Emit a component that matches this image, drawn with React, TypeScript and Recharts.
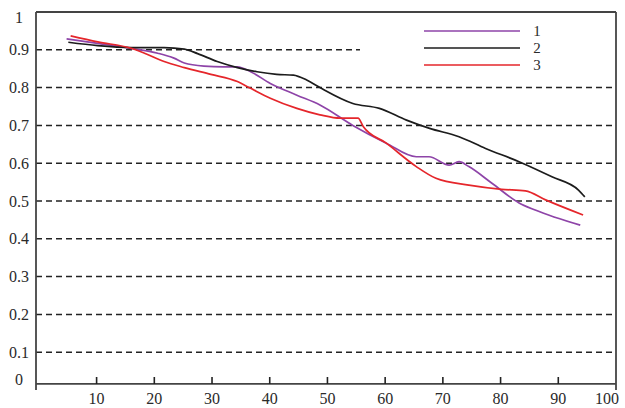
import React from 'react';
import { LineChart, Line, XAxis, YAxis, ReferenceLine } from 'recharts';

const xTicks = [10, 20, 30, 40, 50, 60, 70, 80, 90, 100];
const yTicks = [0, 0.1, 0.2, 0.3, 0.4, 0.5, 0.6, 0.7, 0.8, 0.9, 1];
const gridValues = [0.1, 0.2, 0.3, 0.4, 0.5, 0.6, 0.7, 0.8, 0.9];
const seriesNames = ['1', '2', '3'];
const seriesColors = ['#8e44a8', '#1c1c1c', '#e5262b'];

const s1X = [4.8, 10.2, 16, 20.6, 23.4, 25.2, 28.6, 32, 34.4, 36.7, 40.1, 44.7, 48.7, 54.4, 60.2, 65.4, 67.6, 71.1, 72.8, 74.5, 78.5, 83.2, 86, 93.8];
const s1Y = [0.929, 0.917, 0.904, 0.891, 0.878, 0.865, 0.857, 0.855, 0.855, 0.842, 0.811, 0.78, 0.754, 0.7, 0.653, 0.617, 0.617, 0.595, 0.604, 0.591, 0.547, 0.495, 0.476, 0.436];

const s2X = [5.1, 10.2, 16, 21.7, 25.2, 27.5, 30.9, 34.4, 37.8, 41.2, 44.1, 46.4, 48.7, 54.4, 59, 63.7, 67.7, 72.8, 77.4, 83.2, 88.9, 93.5, 94.6];
const s2Y = [0.92, 0.911, 0.906, 0.906, 0.902, 0.89, 0.869, 0.853, 0.842, 0.835, 0.833, 0.82, 0.8, 0.758, 0.745, 0.714, 0.692, 0.67, 0.639, 0.604, 0.564, 0.529, 0.511];

const s3X = [5.5, 10.2, 16, 18.3, 21.7, 25.2, 29.8, 34.4, 36.7, 40.1, 44.7, 48.7, 52.2, 55.3, 56.2, 60.2, 65.4, 68.8, 74.5, 80.2, 84.3, 87.8, 94.3];
const s3Y = [0.937, 0.921, 0.904, 0.891, 0.869, 0.853, 0.835, 0.816, 0.798, 0.772, 0.745, 0.728, 0.719, 0.719, 0.697, 0.653, 0.591, 0.56, 0.542, 0.531, 0.527, 0.503, 0.463];

const X_MIN = -0.5;
const X_MAX = 100;
const AXIS_Y = 0.016;

const toPoints = (xs: number[], ys: number[]) => xs.map((x, i) => ({ x, y: ys[i] }));
const series = [toPoints(s1X, s1Y), toPoints(s2X, s2Y), toPoints(s3X, s3Y)];

const FONT = "'Liberation Serif', 'Times New Roman', serif";
const TEXT_COLOR = '#2a2a2a';
const FRAME = '#444';

const XTick = (props: any) => {
  const { x, y, payload } = props;
  const v = payload.value;
  const last = v === 100;
  return (
    <g>
      {!last && <line x1={x} x2={x} y1={y - 6} y2={y - 13} stroke="#222" strokeWidth={1.6} />}
      <text x={last ? x - 9 : x} y={y + 14} textAnchor="middle" fontFamily={FONT} fontSize={16} fill={TEXT_COLOR}>
        {v}
      </text>
    </g>
  );
};

const YTick = (props: any) => {
  const { x, y, payload } = props;
  const v = payload.value;
  const shift = v === 1 ? 5 : v === 0 ? -11 : 0;
  return (
    <text x={x - 17} y={y + shift} dy="0.35em" textAnchor="middle" fontFamily={FONT} fontSize={16} fill={TEXT_COLOR}>
      {v}
    </text>
  );
};

export default function App() {
  return (
    <div style={{ position: 'absolute', left: 0, top: 0, width: 625, height: 408, background: '#fff' }}>
      <LineChart width={625} height={408} margin={{ top: 12, right: 9, bottom: 0, left: 0 }}>
        <XAxis
          type="number"
          dataKey="x"
          domain={[X_MIN, X_MAX]}
          ticks={xTicks}
          allowDataOverflow
          axisLine={false}
          tickLine={false}
          tickSize={0}
          tickMargin={0}
          height={18}
          interval={0}
          tick={<XTick />}
        />
        <YAxis
          type="number"
          domain={[0, 1]}
          ticks={yTicks}
          allowDataOverflow
          axisLine={false}
          tickLine={false}
          tickSize={0}
          tickMargin={0}
          width={36}
          interval={0}
          tick={<YTick />}
        />
        {gridValues.map((g) => (
          <ReferenceLine key={g} y={g} stroke="#222" strokeWidth={1.5} strokeDasharray="6 4" />
        ))}
        {series.map((data, i) => (
          <Line
            key={seriesNames[i]}
            data={data}
            dataKey="y"
            name={seriesNames[i]}
            type="monotone"
            stroke={seriesColors[i]}
            strokeWidth={1.7}
            dot={false}
            isAnimationActive={false}
          />
        ))}
        <ReferenceLine x={X_MIN} stroke={FRAME} strokeWidth={1.8} />
        <ReferenceLine x={X_MAX} stroke={FRAME} strokeWidth={1.8} />
        <ReferenceLine y={1} stroke={FRAME} strokeWidth={1.8} />
        <ReferenceLine y={AXIS_Y} stroke={FRAME} strokeWidth={1.8} />
      </LineChart>
      <div style={{ position: 'absolute', left: 360, top: 22, width: 253, height: 50, background: '#fff' }}>
        <svg width={253} height={50}>
          {seriesNames.map((n, i) => (
            <g key={n}>
              <line x1={64} x2={160} y1={9 + i * 17} y2={9 + i * 17} stroke={seriesColors[i]} strokeWidth={1.7} />
              <text x={177} y={9 + i * 17} dy="0.35em" textAnchor="middle" fontFamily={FONT} fontSize={15} fill={TEXT_COLOR}>
                {n}
              </text>
            </g>
          ))}
        </svg>
      </div>
    </div>
  );
}
